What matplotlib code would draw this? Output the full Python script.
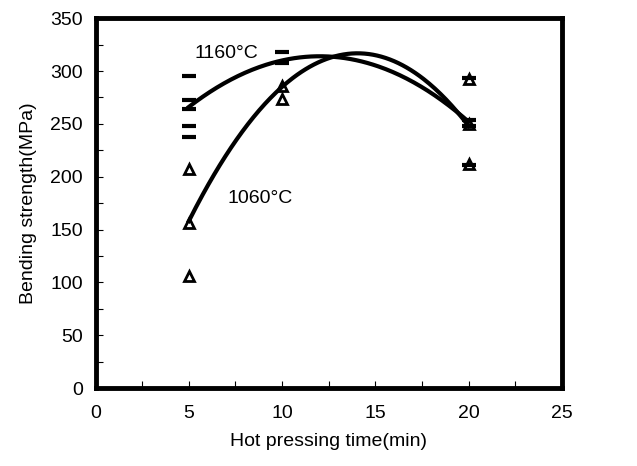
import numpy as np
import matplotlib
matplotlib.use("Agg")
import matplotlib.pyplot as plt
from matplotlib.ticker import MultipleLocator

# Data
t1160_x = [5, 5, 5, 5, 5, 10, 10, 20, 20, 20, 20]
t1160_y = [295, 273, 264, 248, 238, 318, 308, 293, 254, 248, 211]
t1060_x = [5, 5, 5, 10, 10, 20, 20, 20]
t1060_y = [207, 156, 106, 286, 274, 292, 250, 212]
# trend-line anchor values (quadratic fits)
fit_x = [5, 10, 20]
fit1160_y = [266, 310, 252]
fit1060_y = [158, 285, 248]

xticks = [0, 5, 10, 15, 20, 25]
yticks = [0, 50, 100, 150, 200, 250, 300, 350]

plt.rcParams['font.family'] = ['Liberation Sans', 'DejaVu Sans']

fig = plt.figure(figsize=(6.37, 4.66), dpi=100)
ax = fig.add_axes([0.150, 0.167, 0.732, 0.794])

xs = np.linspace(5, 20, 200)
for fy in (fit1160_y, fit1060_y):
    c = np.polyfit(fit_x, fy, 2)
    ax.plot(xs, np.polyval(c, xs), color='black', lw=3.0, zorder=3)

ax.plot(t1160_x, t1160_y, linestyle='none', marker='_', ms=10, mew=3.0,
        color='black', zorder=4)
ax.plot(t1060_x, t1060_y, linestyle='none', marker='^', ms=7, mew=2.0,
        mfc='none', mec='black', zorder=4)

ax.text(7.0, 317, '1160\u00b0C', fontsize=14, ha='center', va='center')
ax.text(8.8, 179, '1060\u00b0C', fontsize=14, ha='center', va='center')

ax.set_xlim(0, 25)
ax.set_ylim(0, 350)
ax.set_xticks(xticks)
ax.set_yticks(yticks)
ax.xaxis.set_minor_locator(MultipleLocator(2.5))
ax.yaxis.set_minor_locator(MultipleLocator(25))
ax.tick_params(which='both', direction='in', length=5, width=0.8, top=False, right=False)
ax.tick_params(which='major', labelsize=14)
ax.tick_params(axis='x', which='major', pad=12)
ax.tick_params(axis='y', which='major', pad=9)
for s in ax.spines.values():
    s.set_linewidth(3.5)

ax.set_xlabel('Hot pressing time(min)', fontsize=14, labelpad=8)
ax.set_ylabel('Bending strength(MPa)', fontsize=14, labelpad=10)

fig.savefig('out.png', dpi=100)
